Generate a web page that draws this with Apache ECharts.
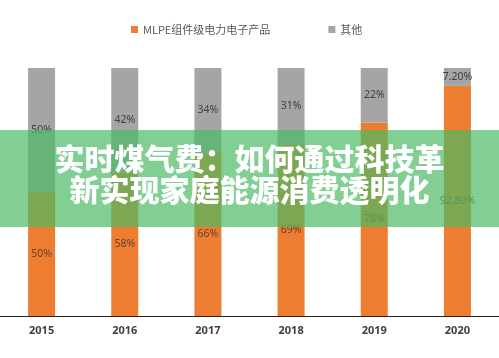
<!DOCTYPE html>
<html><head><meta charset="utf-8">
<script src="https://cdn.jsdelivr.net/npm/echarts@6/dist/echarts.min.js"></script>
<style>html,body{margin:0;padding:0;background:#fff}#c{width:499px;height:358px}</style>
</head><body><div id="c"></div>
<script>
const years = ['2015','2016','2017','2018','2019','2020'];
const mlpe = [50, 58, 66, 69, 78, 92.8];
const other = [50, 42, 34, 31, 22, 7.2];
const mlpeLabels = ['50%','58%','66%','69%','78%','92.80%'];
const otherLabels = ['50%','42%','34%','31%','22%','7.20%'];
const seriesNames = ['MLPE组件级电力电子产品','其他'];
const titleLines = ['实时煤气费：如何通过科技革','新实现家庭能源消费透明化'];

const chart = echarts.init(document.getElementById('c'));
const titleStyle = {fill:'#fff', font:'900 30px "Noto Sans CJK SC"',
  shadowColor:'rgba(0,0,0,0.25)', shadowBlur:2, shadowOffsetX:0.5, shadowOffsetY:0.5};
chart.setOption({
  animation:false,
  legend:{
    data:seriesNames, left:126, top:19, itemWidth:7, itemHeight:7, itemGap:58,
    icon:'rect',
    textStyle:{fontSize:11, color:'#595959', fontFamily:'Noto Sans CJK SC'}
  },
  grid:{left:0, right:0, top:68, bottom:42},
  xAxis:{type:'category', data:years,
    axisLine:{lineStyle:{color:'#222', width:1.2}}, axisTick:{show:false},
    axisLabel:{fontSize:11, fontWeight:'bold', color:'#404040', margin:9, fontFamily:'Noto Sans'}},
  yAxis:{type:'value', min:0, max:100, show:false, splitLine:{show:false}},
  series:[
    {name:seriesNames[0], type:'bar', stack:'s', barWidth:27, data:mlpe,
     itemStyle:{color:'#ED7D31'},
     label:{show:true, position:'inside', fontSize:10.5, color:'#6a4030', fontFamily:'Noto Sans',
       formatter:p=>mlpeLabels[p.dataIndex]}},
    {name:seriesNames[1], type:'bar', stack:'s', barWidth:27, data:other,
     itemStyle:{color:'#A5A5A5'},
     label:{show:true, position:'inside', fontSize:10.5, color:'#404040', fontFamily:'Noto Sans',
       formatter:p=>otherLabels[p.dataIndex]}}
  ],
  graphic:[
    {type:'rect', left:0, top:130, shape:{width:499, height:97}, style:{fill:'rgba(76,186,100,0.7)'}, z:100},
    {type:'text', left:'center', top:144, z:101, style:Object.assign({text:titleLines[0]}, titleStyle)},
    {type:'text', left:'center', top:175, z:101, style:Object.assign({text:titleLines[1]}, titleStyle)}
  ]
});
</script></body></html>
